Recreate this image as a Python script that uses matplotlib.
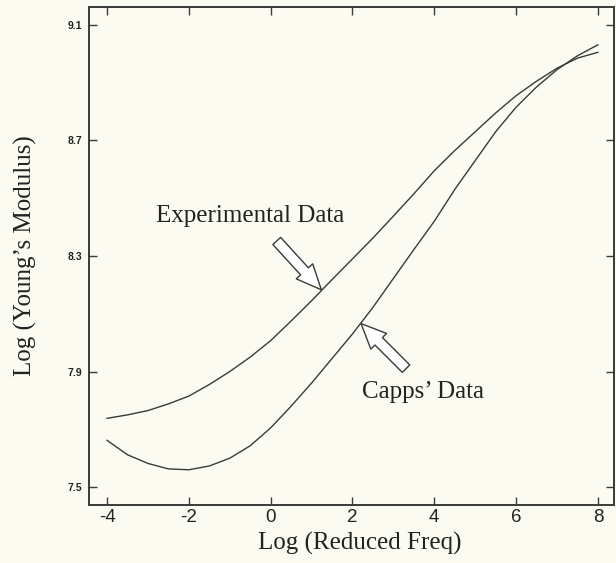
import matplotlib
matplotlib.use("Agg")
import matplotlib.pyplot as plt

# ---- data ----
exp_x = [-4, -3.5, -3, -2.5, -2, -1.5, -1, -0.5, 0, 0.5, 1, 1.5, 2, 2.5, 3, 3.5, 4,
         4.5, 5, 5.5, 6, 6.5, 7, 7.5, 8]
exp_y = [7.738, 7.750, 7.765, 7.788, 7.815, 7.855, 7.900, 7.950, 8.007, 8.075, 8.145,
         8.218, 8.290, 8.362, 8.438, 8.515, 8.595, 8.665, 8.730, 8.795, 8.855, 8.905,
         8.950, 8.985, 9.005]

capps_x = [-4, -3.5, -3, -2.5, -2, -1.5, -1, -0.5, 0, 0.5, 1, 1.5, 2, 2.5, 3, 3.5, 4,
           4.5, 5, 5.5, 6, 6.5, 7, 7.5, 8]
capps_y = [7.662, 7.612, 7.582, 7.563, 7.560, 7.573, 7.600, 7.643, 7.705, 7.780, 7.860,
           7.945, 8.030, 8.122, 8.222, 8.322, 8.420, 8.530, 8.630, 8.730, 8.815, 8.885,
           8.945, 8.993, 9.031]

x_ticks = [-4, -2, 0, 2, 4, 6, 8]
y_ticks = [7.5, 7.9, 8.3, 8.7, 9.1]
y_tick_labels = ["7.5", "7.9", "8.3", "8.7", "9.1"]

x_label = "Log (Reduced Freq)"
y_label = "Log (Young\u2019s Modulus)"
exp_label = "Experimental Data"
capps_label = "Capps\u2019 Data"

exp_arrow_tail = (0.15, 8.352)
exp_arrow_tip = (1.24, 8.183)
capps_arrow_tail = (3.31, 7.910)
capps_arrow_tip = (2.21, 8.066)

bg = "#fbfbf1"
ink = "#3a3a3a"
txt = "#222222"

fig = plt.figure(figsize=(6.16, 5.63), dpi=100, facecolor=bg)
ax = fig.add_axes([0.1445, 0.103, 0.852, 0.8846], facecolor=bg)

ax.plot(exp_x, exp_y, color=ink, lw=1.0, solid_joinstyle="round")
ax.plot(capps_x, capps_y, color=ink, lw=1.0, solid_joinstyle="round")

ax.set_xlim(-4.44, 8.39)
ax.set_ylim(7.438, 9.162)

ax.set_xticks(x_ticks)
ax.set_xticklabels([str(t) for t in x_ticks], family="Liberation Sans", fontsize=13.5)
ax.set_yticks(y_ticks)
ax.set_yticklabels(y_tick_labels, family="Liberation Sans", fontsize=7.5, fontweight="bold")

ax.tick_params(axis="both", direction="in", length=6, width=1.0, color=ink,
               top=True, right=True, labelcolor=txt)
ax.tick_params(axis="x", pad=3)
ax.tick_params(axis="y", pad=5)

for s in ax.spines.values():
    s.set_color(ink)
    s.set_linewidth(1.4)

ax.set_xlabel(x_label, family="Liberation Serif", fontsize=18, color=txt, labelpad=4)
ax.xaxis.label.set_x(0.516)
ax.set_ylabel(y_label, family="Liberation Serif", fontsize=18, color=txt, labelpad=22)

ax.text(-0.50, 8.438, exp_label, family="Liberation Serif", fontsize=18,
        color=txt, ha="center", va="center")
ax.text(3.72, 7.828, capps_label, family="Liberation Serif", fontsize=18,
        color=txt, ha="center", va="center")

arrow_style = "simple,head_length=0.9,head_width=0.8,tail_width=0.38"
for tail, tip in [(exp_arrow_tail, exp_arrow_tip), (capps_arrow_tail, capps_arrow_tip)]:
    ax.annotate("", xy=tip, xytext=tail,
                arrowprops=dict(arrowstyle=arrow_style, fc="white", ec=ink, lw=1.0,
                                shrinkA=0, shrinkB=0, mutation_scale=20))

fig.savefig("out.png", dpi=100, facecolor=bg)
